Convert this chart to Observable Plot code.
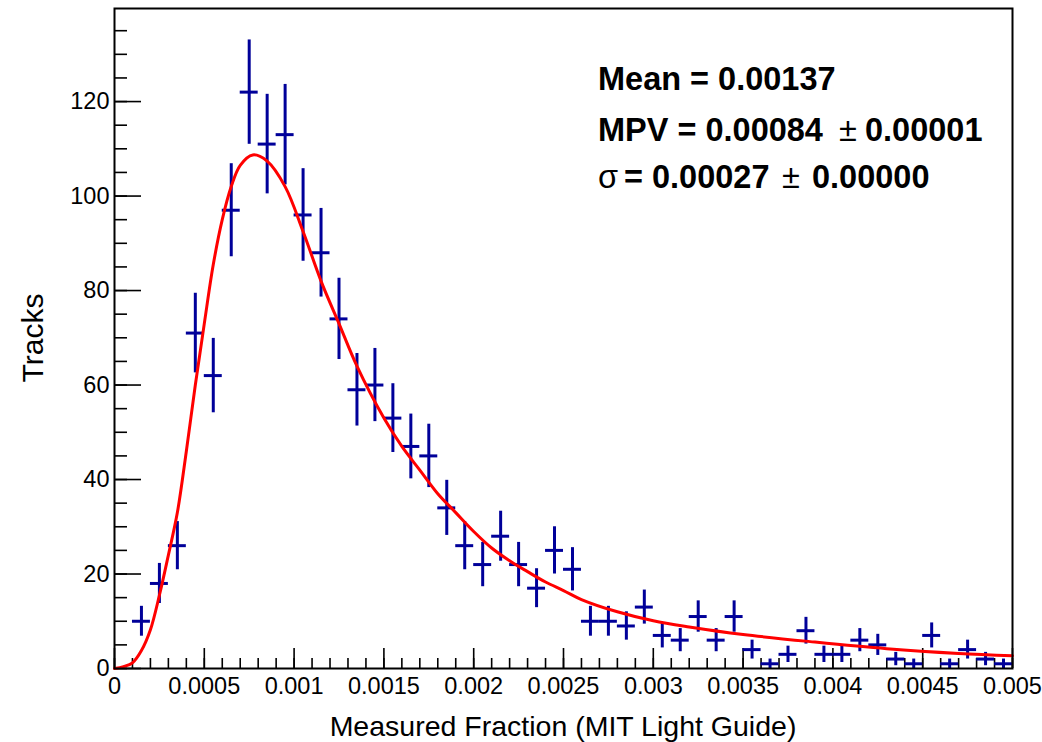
<!DOCTYPE html>
<html><head><meta charset="utf-8">
<script src="https://cdn.jsdelivr.net/npm/d3@7"></script>
<script src="https://cdn.jsdelivr.net/npm/@observablehq/plot@0.6"></script>
<style>
html,body{margin:0;padding:0;background:#fff;}
#chart{width:1042px;height:742px;overflow:hidden;}
</style></head><body><div id="chart"></div>
<script>
// Histogram definition: 50 bins from 0 to 0.005
const xMin = 0, xMax = 0.005, binWidth = 0.0001;
const counts = [0,10,18,26,71,62,97,122,111,113,96,88,74,59,60,53,47,45,34,26,
                22,28,22,17,25,21,10,10,9,13,7,6,11,6,11,4,1,3,8,3,
                3,6,5,2,1,7,1,4,2,1];

// Fit curve
const fitX = [0,0.00005,0.0001,0.00015,0.0002,0.00025,0.0003,0.00035,0.0004,0.00045,0.0005,0.00055,0.0006,0.00065,0.0007,0.00077,0.00085,0.00095,0.00105,0.00115,0.00125,0.00135,0.0015,0.0016,0.0017,0.0018,0.0019,0.002,0.0021,0.0022,0.0023,0.0024,0.0025,0.0026,0.0028,0.003,0.0032,0.0035,0.0039,0.0043,0.0047,0.005];
const fitY = [0,0.4,1.2,3.8,8.2,15.5,24,33,46,60,73,85.5,95,102,106.5,108.7,107.4,102,92.5,82,73,64,53,47,42,37,33,29,25.5,22.8,20.5,18.3,16.5,14.6,12,10.1,8.8,7.2,5.6,4.2,3.2,2.7];

// Axis ticks & labels
const xMajor = [0,0.0005,0.001,0.0015,0.002,0.0025,0.003,0.0035,0.004,0.0045,0.005];
const xTickLabels = ["0","0.0005","0.001","0.0015","0.002","0.0025","0.003","0.0035","0.004","0.0045","0.005"];
const xMinor = d3.range(0, 51).map(i => i * 0.0001);
const yMajor = [0,20,40,60,80,100,120];
const yTickLabels = ["0","20","40","60","80","100","120"];
const yMinor = d3.range(0, 140, 5);
const yMax = 139.7;

const xTitle = "Measured Fraction (MIT Light Guide)";
const yTitle = "Tracks";
const statMean = "0.00137";
const statMPV = ["0.00084", "0.00001"];
const statSigma = ["0.00027", "0.00000"];

const blue = "#000099", red = "#ff0000";
const FONT = "'Liberation Sans', Arial, Helvetica, sans-serif";

const bins = counts.map((v, i) => ({
  lo: xMin + i * binWidth, hi: xMin + (i + 1) * binWidth,
  x: xMin + (i + 0.5) * binWidth, v, e: Math.sqrt(v)
})).filter(d => d.v > 0);
const fit = fitX.map((x, i) => ({x, y: fitY[i]}));

const W = 1042, H = 742, mL = 114, mR = 30, mT = 8, mB = 74;
const frameW = W - mL - mR, frameH = H - mT - mB;

const plot = Plot.plot({
  width: W, height: H,
  marginLeft: mL, marginRight: mR, marginTop: mT, marginBottom: mB,
  style: {fontFamily: FONT, background: "white", color: "black", overflow: "visible"},
  x: {domain: [xMin, xMax]},
  y: {domain: [0, yMax]},
  marks: [
    // minor/major ticks drawn inward
    Plot.tickX(xMinor, {x: d => d, insetTop: frameH - 10, stroke: "black", strokeWidth: 1.6}),
    Plot.tickX(xMajor, {x: d => d, insetTop: frameH - 20, stroke: "black", strokeWidth: 1.6}),
    Plot.tickY(yMinor, {y: d => d, insetRight: frameW - 13, stroke: "black", strokeWidth: 1.6}),
    Plot.tickY(yMajor, {y: d => d, insetRight: frameW - 27, stroke: "black", strokeWidth: 1.6}),
    Plot.axisX(xMajor, {tickSize: 0, tickPadding: 9, fontSize: 23.5,
      tickFormat: d => xTickLabels[xMajor.indexOf(d)], label: null}),
    Plot.axisY(yMajor, {tickSize: 0, tickPadding: 5, fontSize: 23.5,
      tickFormat: d => yTickLabels[yMajor.indexOf(d)], label: null}),
    // histogram with error bars
    Plot.ruleX(bins, {x: "x", y1: d => d.v - d.e, y2: d => d.v + d.e, stroke: blue, strokeWidth: 3}),
    Plot.ruleY(bins, {y: "v", x1: "lo", x2: "hi", stroke: blue, strokeWidth: 3}),
    // fit
    Plot.line(fit, {x: "x", y: "y", curve: "catmull-rom", stroke: red, strokeWidth: 3}),
    Plot.frame({stroke: "black", strokeWidth: 2})
  ]
});
document.getElementById("chart").appendChild(plot);

const svg = d3.select(plot);
// axis titles
svg.append("text").attr("x", mL + frameW / 2).attr("y", 736)
  .attr("text-anchor", "middle").attr("font-family", FONT).attr("font-size", 28.5)
  .attr("fill", "black").text(xTitle);
svg.append("text").attr("transform", `translate(43,${mT + frameH / 2}) rotate(-90)`)
  .attr("text-anchor", "middle").attr("font-family", FONT).attr("font-size", 30)
  .attr("fill", "black").text(yTitle);

// statistics box text
const g = svg.append("g").attr("font-family", FONT).attr("font-size", 32.5)
  .attr("fill", "black").attr("text-anchor", "start");
g.append("text").attr("x", 598).attr("y", 90).attr("text-anchor", "start")
  .attr("font-weight", "bold").text("Mean = " + statMean);
const t2 = g.append("text").attr("x", 598).attr("y", 141).attr("text-anchor", "start");
t2.append("tspan").attr("font-weight", "bold").text("MPV = " + statMPV[0]);
t2.append("tspan").attr("x", 839).text("\u00B1");
t2.append("tspan").attr("x", 865).attr("font-weight", "bold").text(statMPV[1]);
const t3 = g.append("text").attr("x", 598).attr("y", 188).attr("text-anchor", "start");
t3.append("tspan").text("\u03C3");
t3.append("tspan").attr("x", 624).attr("font-weight", "bold").text("= " + statSigma[0]);
t3.append("tspan").attr("x", 782).text("\u00B1");
t3.append("tspan").attr("x", 812).attr("font-weight", "bold").text(statSigma[1]);
</script>
</body></html>
